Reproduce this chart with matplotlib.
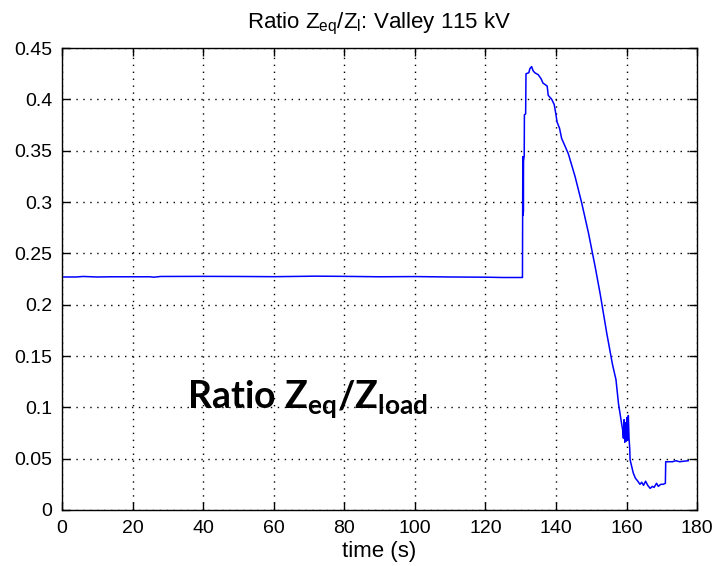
import numpy as np
import matplotlib.pyplot as plt

plt.rcParams['font.family'] = ['Liberation Sans', 'DejaVu Sans']
plt.rcParams['mathtext.default'] = 'regular'

# time (s) and ratio Zeq/Zload
t = [0, 4, 6, 10, 14, 25, 26, 28, 40, 50, 60, 65, 72, 80, 90, 100, 105, 110,
     120, 125, 130.3, 130.5, 130.6, 130.65, 130.7, 130.75, 130.8, 131.0,
     131.05, 131.4, 131.5, 132.3, 132.6, 133.1, 133.5, 134.0, 135.0, 135.8,
     136.3, 137.5, 137.8, 138.8, 139.5, 140.0, 140.3, 141.0, 141.6, 142.5,
     143.5, 145.4, 147.3, 149.2, 151.1, 152.5, 154.4, 156.0, 157.0, 157.7,
     158.6, 158.9, 159.1, 159.3, 159.5, 159.7, 159.9, 160.1, 160.3, 160.5,
     160.7, 160.9, 161.0, 161.9, 162.5, 163.2, 163.8, 164.3, 164.8, 165.4,
     166.0, 166.7, 167.3, 167.8, 168.5, 169.0, 169.7, 170.4, 171.0, 171.1,
     173.0, 174.0, 175.0, 177.5]
ratio = [0.227, 0.227, 0.2275, 0.227, 0.2272, 0.2272, 0.2268, 0.2275, 0.2276,
         0.2275, 0.2273, 0.2275, 0.2278, 0.2276, 0.2272, 0.2274, 0.2272, 0.2270,
         0.2268, 0.2265, 0.2265, 0.2265, 0.344, 0.287, 0.344, 0.290, 0.340,
         0.345, 0.385, 0.386, 0.425, 0.426, 0.430, 0.432, 0.428, 0.426, 0.424,
         0.420, 0.416, 0.413, 0.404, 0.400, 0.395, 0.385, 0.378, 0.372, 0.362,
         0.355, 0.347, 0.325, 0.299, 0.270, 0.237, 0.211, 0.172, 0.142, 0.127,
         0.104, 0.084, 0.078, 0.070, 0.088, 0.066, 0.085, 0.067, 0.090, 0.068,
         0.092, 0.070, 0.060, 0.049, 0.036, 0.031, 0.028, 0.025, 0.027, 0.024,
         0.028, 0.024, 0.021, 0.023, 0.022, 0.026, 0.023, 0.025, 0.025, 0.026,
         0.047, 0.047, 0.048, 0.047, 0.048]

xticks = np.arange(0, 181, 20)
yticks = np.arange(0, 0.451, 0.05)
ytick_labels = ['0', '0.05', '0.1', '0.15', '0.2', '0.25', '0.3', '0.35', '0.4', '0.45']

fig = plt.figure(figsize=(7.15, 5.66), dpi=100)
ax = fig.add_axes([0.0867, 0.099, 0.8883, 0.816])
ax.plot(t, ratio, color=(0, 0, 1), lw=1.1)

ax.set_xlim(0, 180)
ax.set_ylim(0, 0.45)
ax.set_xticks(xticks)
ax.set_yticks(yticks)
ax.set_yticklabels(ytick_labels)
ax.grid(True, color='black', linestyle=(0, (1, 4)), linewidth=1)
ax.tick_params(direction='in', length=6, width=1, top=True, right=True,
               labelsize=14, pad=7)
for sp in ax.spines.values():
    sp.set_linewidth(1)

ax.set_title(r'Ratio Z$_{eq}$/Z$_{l}$: Valley 115 kV', fontsize=16, pad=14)
ax.set_xlabel('time (s)', fontsize=16, labelpad=3)

ax.text(35.4, 0.0993, r'Ratio Z$_{eq}$/Z$_{load}$', fontsize=27,
        fontweight='bold', family=['Lato', 'DejaVu Sans'], va='baseline')

fig.savefig('out.png', dpi=100)
